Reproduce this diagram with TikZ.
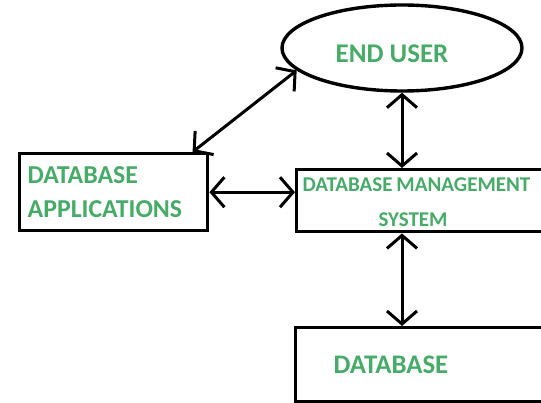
\documentclass[tikz,border=0pt]{standalone}
\usepackage{fontspec}
\setmainfont{Carlito}
\usetikzlibrary{shapes.geometric,arrows.meta}

\definecolor{labelgreen}{RGB}{70,172,104}

\tikzset{
  box/.style={draw, line width=3.4pt, rectangle, text=labelgreen, align=left},
  link/.style={line width=3pt, {Straight Barb[length=13pt,width=30pt]}-{Straight Barb[length=13pt,width=30pt]}}
}

\begin{document}
\begin{tikzpicture}[x=1pt,y=-1pt]
        % Page size, boxes on the right run off the edge
        \useasboundingbox (0,0) rectangle (541,403);
        \clip (0,0) rectangle (541,403);
        \fill[white] (0,0) rectangle (541,403);

        % Define the nodes
        \node[draw, ellipse, line width=3.4pt, minimum width=240pt, minimum height=86pt, inner sep=0pt,
              text=labelgreen, font=\bfseries\fontsize{27}{30}\selectfont] (user) at (402,48)
              {\raisebox{-6pt}[\height][\depth]{END USER}\hspace*{20pt}};
        \node[box, anchor=north west, text width=172pt, inner xsep=8pt, minimum height=77pt,
              font=\bfseries\fontsize{25.8}{34}\selectfont] (apps) at (18,152) {DATABASE\\APPLICATIONS};
        \node[box, anchor=north west, text width=250pt, inner xsep=6pt, minimum height=62pt,
              font=\bfseries\fontsize{21}{37}\selectfont] (dbms) at (295,168)
              {\raisebox{-2pt}[\height][\depth]{DATABASE\hspace{4pt}MANAGEMENT}\\\hspace*{76pt}SYSTEM};
        \node[box, anchor=north west, text width=200pt, inner xsep=38pt, minimum height=74pt,
              font=\bfseries\fontsize{26.8}{30}\selectfont] (db) at (294,326) {DATABASE};

        % Draw the links
        \draw[link] (apps.27.6) -- (user.192);
        \draw[link] (user.south) -- (user.south |- dbms.north);
        \draw[link] (apps.east) -- (apps.east -| dbms.west);
        \draw[link] (user.south |- dbms.south) -- (user.south |- db.north);
    \end{tikzpicture}
\end{document}
